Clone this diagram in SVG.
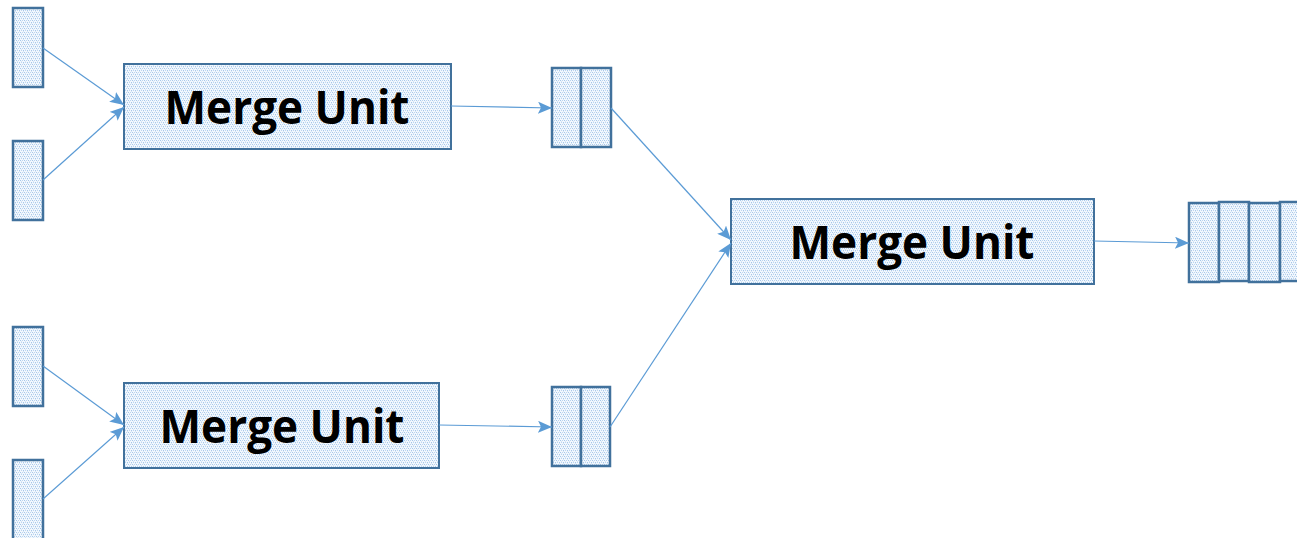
<svg xmlns="http://www.w3.org/2000/svg" width="1297" height="538" viewBox="0 0 1297 538">
  <defs>
    <pattern id="dots" width="4" height="4" patternUnits="userSpaceOnUse">
      <rect width="4" height="4" fill="#f3f8fd"/>
      <rect x="0" y="0" width="1" height="1" fill="#a6c7ea"/>
      <rect x="2" y="0" width="1" height="1" fill="#bcd5f0"/>
      <rect x="1" y="2" width="1" height="1" fill="#bcd5f0"/>
      <rect x="3" y="2" width="1" height="1" fill="#a6c7ea"/>
      <rect x="1" y="1" width="1" height="1" fill="#d6e6f6"/>
      <rect x="3" y="3" width="1" height="1" fill="#d6e6f6"/>
    </pattern>
    <marker id="arrow" viewBox="0 0 14 12" refX="14" refY="6" markerWidth="14" markerHeight="12" markerUnits="userSpaceOnUse" orient="auto">
      <path d="M0,0 L14,6 L0,12 L3,6 z" fill="#5b9bd5"/>
    </marker>
  </defs>
  <style>
    .box { fill: url(#dots); stroke: #41719c; stroke-width: 2; }
    .cell { fill: url(#dots); stroke: #41719c; stroke-width: 2.5; }
    .label { font-family: "Open Sans", "Liberation Sans", sans-serif; font-weight: bold; font-size: 47px; fill: #000; }
    .link { stroke: #5b9bd5; stroke-width: 1.2; fill: none; marker-end: url(#arrow); }
  </style>
  <rect width="1297" height="538" fill="#fff"/>

  <!-- input runs -->
  <g id="in1"><rect class="cell" x="13" y="8" width="30" height="79"/></g>
  <g id="in2"><rect class="cell" x="13" y="141" width="30" height="79"/></g>
  <g id="in3"><rect class="cell" x="13" y="327" width="30" height="79"/></g>
  <g id="in4"><rect class="cell" x="13" y="460" width="30" height="82"/></g>

  <!-- merge units -->
  <g id="merge1">
    <rect class="box" x="124" y="64" width="327" height="85"/>
    <text class="label" x="287" y="124" text-anchor="middle" textLength="245" lengthAdjust="spacingAndGlyphs">Merge Unit</text>
  </g>
  <g id="merge2">
    <rect class="box" x="124" y="383" width="315" height="85"/>
    <text class="label" x="282" y="443" text-anchor="middle" textLength="245" lengthAdjust="spacingAndGlyphs">Merge Unit</text>
  </g>
  <g id="merge3">
    <rect class="box" x="731" y="199" width="363" height="85"/>
    <text class="label" x="912" y="259" text-anchor="middle" textLength="245" lengthAdjust="spacingAndGlyphs">Merge Unit</text>
  </g>

  <!-- two-element runs -->
  <g id="run2a">
    <rect class="cell" x="552" y="68" width="29" height="79"/>
    <rect class="cell" x="581" y="68" width="30" height="79"/>
  </g>
  <g id="run2b">
    <rect class="cell" x="552" y="387" width="29" height="79"/>
    <rect class="cell" x="581" y="387" width="29" height="79"/>
  </g>

  <!-- four-element run -->
  <g id="run4">
    <rect class="cell" x="1189" y="203" width="30" height="79"/>
    <rect class="cell" x="1219" y="202" width="30" height="79"/>
    <rect class="cell" x="1249" y="203" width="31" height="79"/>
    <rect class="cell" x="1280" y="202" width="30" height="79"/>
  </g>

  <!-- connectors -->
  <g id="connectors">
    <line class="link" x1="43" y1="48" x2="124" y2="105"/>
    <line class="link" x1="43" y1="180" x2="124" y2="107"/>
    <line class="link" x1="43" y1="366" x2="124" y2="425"/>
    <line class="link" x1="43" y1="499" x2="124" y2="427"/>
    <line class="link" x1="451" y1="106" x2="552" y2="108"/>
    <line class="link" x1="439" y1="425" x2="552" y2="427"/>
    <line class="link" x1="611" y1="108" x2="731" y2="240"/>
    <line class="link" x1="610" y1="427" x2="731" y2="243"/>
    <line class="link" x1="1094" y1="241" x2="1189" y2="243"/>
  </g>
</svg>
